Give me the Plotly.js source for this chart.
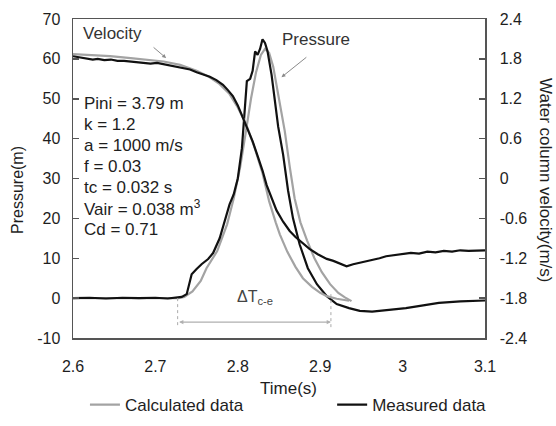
<!DOCTYPE html>
<html>
<head>
<meta charset="utf-8">
<script src="https://cdn.plot.ly/plotly-3.0.1.min.js"></script>
<style>html,body{margin:0;padding:0;background:#fff;}#chart{width:556px;height:426px;}</style>
</head>
<body>
<div id="chart"></div>
<script>
// ---- Data ----
const calcTimeP = [2.600, 2.650, 2.700, 2.728, 2.735, 2.745, 2.755, 2.762, 2.775, 2.787, 2.795, 2.803, 2.810, 2.816, 2.822, 2.828, 2.833, 2.838, 2.843, 2.848, 2.853, 2.857, 2.863, 2.869, 2.876, 2.884, 2.893, 2.902, 2.912, 2.922, 2.930, 2.938];
const calcPressure = [0, 0, 0, 0, 0.3, 1.7, 4.3, 7.5, 11.8, 18.5, 25, 33, 42, 50, 56.5, 61, 62.5, 61.5, 58, 52, 46.5, 41.9, 33, 25, 19, 14.5, 10, 6.5, 3.5, 1.3, 0.2, -0.75];

const calcTimeV = [2.600, 2.620, 2.645, 2.670, 2.690, 2.710, 2.730, 2.750, 2.765, 2.778, 2.790, 2.800, 2.810, 2.820, 2.830, 2.838, 2.846, 2.851, 2.860, 2.870, 2.879, 2.890, 2.900, 2.908, 2.920, 2.935];
const calcVelocity = [1.87, 1.86, 1.84, 1.81, 1.79, 1.76, 1.71, 1.62, 1.53, 1.42, 1.27, 1.07, 0.82, 0.48, 0.08, -0.34, -0.66, -0.84, -1.10, -1.33, -1.50, -1.63, -1.72, -1.77, -1.81, -1.84];

const measTimeP = [2.600, 2.620, 2.640, 2.660, 2.680, 2.700, 2.715, 2.725, 2.732, 2.738, 2.744, 2.750, 2.756, 2.764, 2.770, 2.778, 2.784, 2.790, 2.795, 2.800, 2.805, 2.808, 2.811, 2.815, 2.818, 2.821, 2.824, 2.827, 2.830, 2.833, 2.836, 2.841, 2.845, 2.849, 2.855, 2.861, 2.867, 2.875, 2.885, 2.896, 2.908, 2.920, 2.935, 2.948, 2.963, 2.980, 3.004, 3.025, 3.044, 3.070, 3.100];
const measPressure = [0, 0.1, -0.1, 0.1, 0, 0.1, -0.1, 0.2, 0.3, 1, 6, 7.3, 8.5, 9.8, 11.3, 15, 19, 23.5, 26, 30, 37.6, 45, 54.4, 55, 57, 61.9, 61, 62.5, 64.9, 64, 62, 56, 50, 43, 36, 27, 20, 13.5, 7.5, 3.5, 0.5, -1.5, -2.5, -3.2, -3.4, -3.1, -2.5, -1.8, -1.2, -0.8, -0.6];

const measTimeV = [2.600, 2.606, 2.612, 2.618, 2.624, 2.630, 2.638, 2.646, 2.654, 2.662, 2.670, 2.678, 2.686, 2.694, 2.702, 2.710, 2.718, 2.726, 2.734, 2.742, 2.750, 2.758, 2.766, 2.774, 2.782, 2.788, 2.794, 2.800, 2.806, 2.812, 2.818, 2.824, 2.830, 2.835, 2.841, 2.847, 2.855, 2.863, 2.870, 2.878, 2.887, 2.897, 2.908, 2.916, 2.924, 2.932, 2.940, 2.948, 2.956, 2.964, 2.972, 2.980, 2.990, 3.000, 3.010, 3.020, 3.030, 3.040, 3.050, 3.060, 3.070, 3.080, 3.090, 3.100];
const measVelocity = [1.84, 1.83, 1.81, 1.80, 1.79, 1.80, 1.78, 1.79, 1.77, 1.77, 1.76, 1.75, 1.75, 1.73, 1.74, 1.72, 1.70, 1.69, 1.67, 1.64, 1.60, 1.57, 1.53, 1.48, 1.41, 1.33, 1.24, 1.10, 0.92, 0.74, 0.56, 0.34, 0.12, -0.10, -0.30, -0.48, -0.65, -0.79, -0.88, -0.97, -1.06, -1.14, -1.21, -1.24, -1.28, -1.32, -1.29, -1.27, -1.25, -1.22, -1.20, -1.17, -1.15, -1.14, -1.12, -1.13, -1.10, -1.11, -1.09, -1.10, -1.08, -1.09, -1.08, -1.08];

const timeTicks = [2.6, 2.7, 2.8, 2.9, 3.0, 3.1];
const timeTickText = ['2.6', '2.7', '2.8', '2.9', '3', '3.1'];
const pressureTicks = [-10, 0, 10, 20, 30, 40, 50, 60, 70];
const pressureTickText = ['-10', '0', '10', '20', '30', '40', '50', '60', '70'];
const velocityTicks = [-2.4, -1.8, -1.2, -0.6, 0, 0.6, 1.2, 1.8, 2.4];
const velocityTickText = ['-2.4', '-1.8', '-1.2', '-0.6', '0', '0.6', '1.2', '1.8', '2.4'];

const paramLines = ['Pini = 3.79 m', 'k = 1.2', 'a = 1000 m/s', 'f = 0.03', 'tc = 0.032 s', 'Vair = 0.038 m<sup>3</sup>', 'Cd = 0.71'];
const dtStart = 2.727, dtEnd = 2.913;

// ---- Styles ----
const FONT = 'Liberation Sans, Arial, sans-serif';
const GRAY = '#a3a3a3', BLACK = '#111111', AXIS = '#555555', TXT = '#1e1e1e';

const traces = [
  {x: calcTimeP, y: calcPressure, yaxis: 'y', mode: 'lines', name: 'Calculated data', line: {color: GRAY, width: 2.2}, showlegend: true, legend: 'legend'},
  {x: calcTimeV, y: calcVelocity, yaxis: 'y2', mode: 'lines', name: 'Calculated velocity', line: {color: GRAY, width: 2.2}, showlegend: false},
  {x: measTimeP, y: measPressure, yaxis: 'y', mode: 'lines', name: 'Measured data', line: {color: BLACK, width: 2.2}, showlegend: true, legend: 'legend2'},
  {x: measTimeV, y: measVelocity, yaxis: 'y2', mode: 'lines', name: 'Measured velocity', line: {color: BLACK, width: 2.2}, showlegend: false}
];

const annotations = [];
paramLines.forEach((t, i) => {
  annotations.push({x: 2.611, y: 48.9 - i * 5.27, xref: 'x', yref: 'y', text: t, showarrow: false,
    xanchor: 'left', yanchor: 'middle', font: {family: FONT, size: 17, color: TXT}});
});
annotations.push(
  {x: 2.648, y: 66.4, xref: 'x', yref: 'y', text: 'Velocity', showarrow: false, xanchor: 'center', yanchor: 'middle', font: {family: FONT, size: 17, color: '#333'}},
  {x: 2.8945, y: 64.9, xref: 'x', yref: 'y', text: 'Pressure', showarrow: false, xanchor: 'center', yanchor: 'middle', font: {family: FONT, size: 17, color: '#333'}},
  {x: 2.713, y: 60.2, xref: 'x', yref: 'y', ax: 2.696, ay: 63.2, axref: 'x', ayref: 'y', text: '', showarrow: true,
    arrowhead: 2, arrowsize: 0.8, arrowwidth: 1, arrowcolor: '#8a8a8a'},
  {x: 2.853, y: 55.4, xref: 'x', yref: 'y', ax: 2.885, ay: 60.7, axref: 'x', ayref: 'y', text: '', showarrow: true,
    arrowhead: 2, arrowsize: 0.8, arrowwidth: 1, arrowcolor: '#8a8a8a'},
  {x: 2.8206, y: 0.2, xref: 'x', yref: 'y', text: '\u0394T<sub>c-e</sub>', showarrow: false, xanchor: 'center', yanchor: 'middle', font: {family: FONT, size: 16, color: '#444'}},
  {x: dtEnd, y: -6, xref: 'x', yref: 'y', ax: dtStart, ay: -6, axref: 'x', ayref: 'y', text: '', showarrow: true,
    arrowhead: 2, startarrowhead: 2, arrowside: 'end+start', arrowsize: 0.7, arrowwidth: 1.2, arrowcolor: '#b0b0b0'},
  {x: -0.1335, y: 0.464, xref: 'paper', yref: 'paper', text: 'Pressure(m)', textangle: -90, showarrow: false,
    xanchor: 'center', yanchor: 'middle', font: {family: FONT, size: 16, color: TXT}},
  {x: 1.148, y: 0.495, xref: 'paper', yref: 'paper', text: 'Water column velocity(m/s)', textangle: 90, showarrow: false,
    xanchor: 'center', yanchor: 'middle', font: {family: FONT, size: 17, color: TXT}},
  {x: 0.524, y: -0.157, xref: 'paper', yref: 'paper', text: 'Time(s)', showarrow: false,
    xanchor: 'center', yanchor: 'middle', font: {family: FONT, size: 17, color: TXT}}
);

const shapes = [
  {type: 'line', xref: 'x', yref: 'y', x0: dtStart, x1: dtStart, y0: 0, y1: -7.5, line: {color: '#aaaaaa', width: 1, dash: 'dot'}},
  {type: 'line', xref: 'x', yref: 'y', x0: dtEnd, x1: dtEnd, y0: 1, y1: -7.5, line: {color: '#aaaaaa', width: 1, dash: 'dot'}}
];

const legendBase = {orientation: 'h', yref: 'container', y: 0.049, xanchor: 'left', yanchor: 'middle',
  font: {family: FONT, size: 17, color: TXT}, bgcolor: 'rgba(0,0,0,0)', borderwidth: 0};

const layout = {
  width: 556, height: 426,
  margin: {l: 73, r: 71, t: 19, b: 88, pad: 0},
  paper_bgcolor: '#ffffff', plot_bgcolor: '#ffffff',
  font: {family: FONT, size: 16, color: TXT},
  xaxis: {range: [2.6, 3.1], tickvals: timeTicks, ticktext: timeTickText, ticks: 'outside', ticklen: 13, tickcolor: 'rgba(0,0,0,0)',
    showgrid: false, zeroline: false, showline: true, mirror: true, linecolor: AXIS, linewidth: 1.5,
    tickfont: {family: FONT, size: 16, color: TXT}},
  yaxis: {range: [-10, 70], tickvals: pressureTicks, ticktext: pressureTickText, ticks: 'inside', ticklen: 6, tickwidth: 1.5, tickcolor: AXIS,
    showgrid: false, zeroline: false, showline: true, linecolor: AXIS, linewidth: 1.5, tickfont: {family: FONT, size: 16, color: TXT}, ticklabelstandoff: 8},
  yaxis2: {range: [-2.4, 2.4], overlaying: 'y', side: 'right', tickvals: velocityTicks, ticktext: velocityTickText, ticks: 'inside', ticklen: 6, tickwidth: 1.5,
    tickcolor: AXIS, showgrid: false, zeroline: false, showline: true, linecolor: AXIS, linewidth: 1.5,
    tickfont: {family: FONT, size: 16, color: TXT}, ticklabelstandoff: 10},
  showlegend: true,
  legend: Object.assign({}, legendBase, {x: 0.029}),
  legend2: Object.assign({}, legendBase, {x: 0.629}),
  annotations: annotations,
  shapes: shapes
};

Plotly.newPlot('chart', traces, layout, {displayModeBar: false, staticPlot: true});
</script>
</body>
</html>
